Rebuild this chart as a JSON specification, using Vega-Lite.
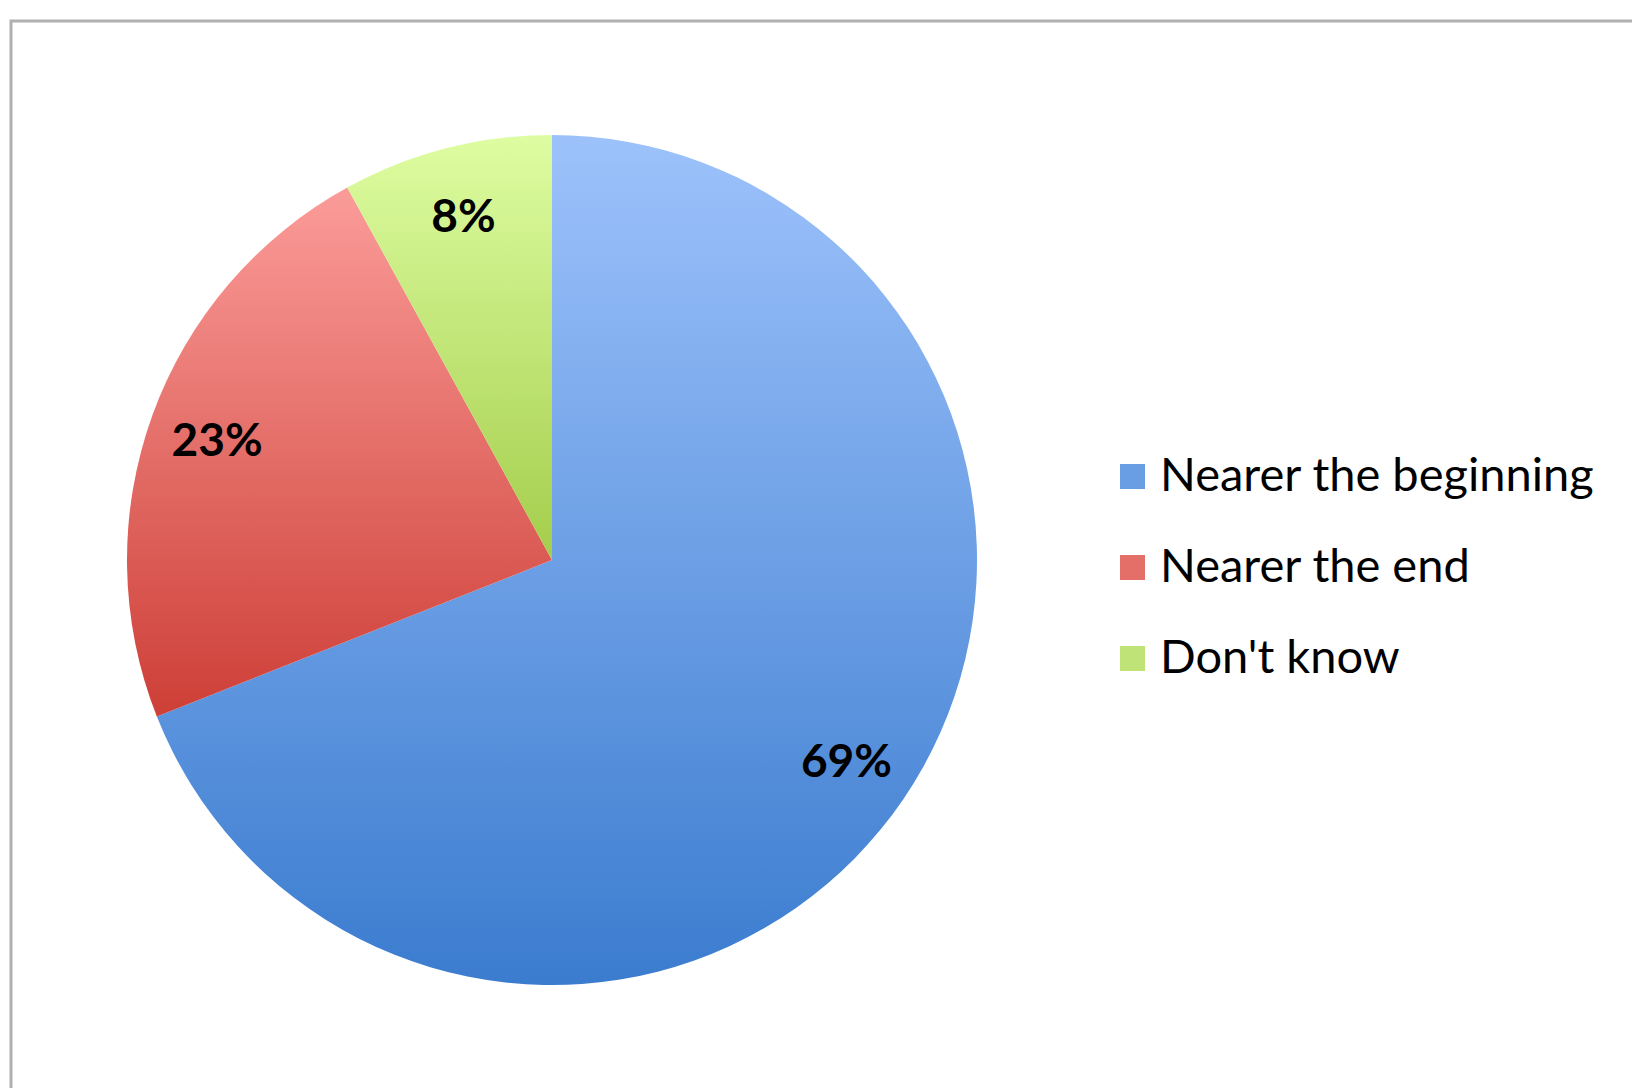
{
  "$schema": "https://vega.github.io/schema/vega-lite/v6.json",
  "width": 1624,
  "height": 1070,
  "autosize": "none",
  "padding": {"left": 11, "top": 21, "right": -3, "bottom": -3},
  "background": "white",
  "view": {"stroke": "#b0b0b0", "strokeWidth": 3, "fill": "white"},
  "data": {
    "values": [
      {"answer": "Nearer the beginning", "value": 69, "label": "69%"},
      {"answer": "Nearer the end", "value": 23, "label": "23%"},
      {"answer": "Don't know", "value": 8, "label": "8%"}
    ]
  },
  "encoding": {
    "theta": {"field": "value", "type": "quantitative", "stack": true},
    "order": {"field": "value", "type": "quantitative", "sort": "descending"}
  },
  "layer": [
    {
      "mark": {"type": "arc", "x": 541, "y": 539, "outerRadius": 425, "strokeWidth": 0},
      "encoding": {
        "color": {
          "field": "answer",
          "type": "nominal",
          "scale": {
            "domain": ["Nearer the beginning", "Nearer the end", "Don't know"],
            "range": ["#6a9ee4", "#e46e68", "#c0e377"]
          },
          "condition": [
            {"test": "datum.answer === 'Nearer the beginning'", "value": {"gradient": "linear", "x1": 0, "y1": 0, "x2": 0, "y2": 1, "stops": [{"offset": 0, "color": "#9dc2fb"}, {"offset": 1, "color": "#3b7ccf"}]}},
            {"test": "datum.answer === 'Nearer the end'", "value": {"gradient": "linear", "x1": 0, "y1": 0, "x2": 0, "y2": 1, "stops": [{"offset": 0, "color": "#fb9c99"}, {"offset": 1, "color": "#cd3f37"}]}},
            {"test": "datum.answer === \"Don't know\"", "value": {"gradient": "linear", "x1": 0, "y1": 0, "x2": 0, "y2": 1, "stops": [{"offset": 0, "color": "#defda2"}, {"offset": 1, "color": "#a4cd4b"}]}}
          ],
          "legend": {
            "title": null,
            "orient": "none",
            "legendX": 1098,
            "legendY": 432,
            "symbolType": "square",
            "symbolSize": 625,
            "symbolStrokeWidth": 0,
            "symbolOpacity": 1,
            "labelFont": "Lato",
            "labelFontSize": 47,
            "labelColor": "black",
            "labelOffset": 4,
            "labelLimit": 700,
            "rowPadding": 43,
            "padding": 0
          }
        }
      }
    },
    {
      "mark": {"type": "text", "x": 541, "y": 539, "radius": 356, "dy": 3, "font": "Lato", "fontSize": 46, "fontWeight": "bold", "color": "black"},
      "encoding": {
        "detail": {"field": "answer", "type": "nominal"},
        "text": {"field": "label", "type": "nominal"}
      }
    }
  ]
}
